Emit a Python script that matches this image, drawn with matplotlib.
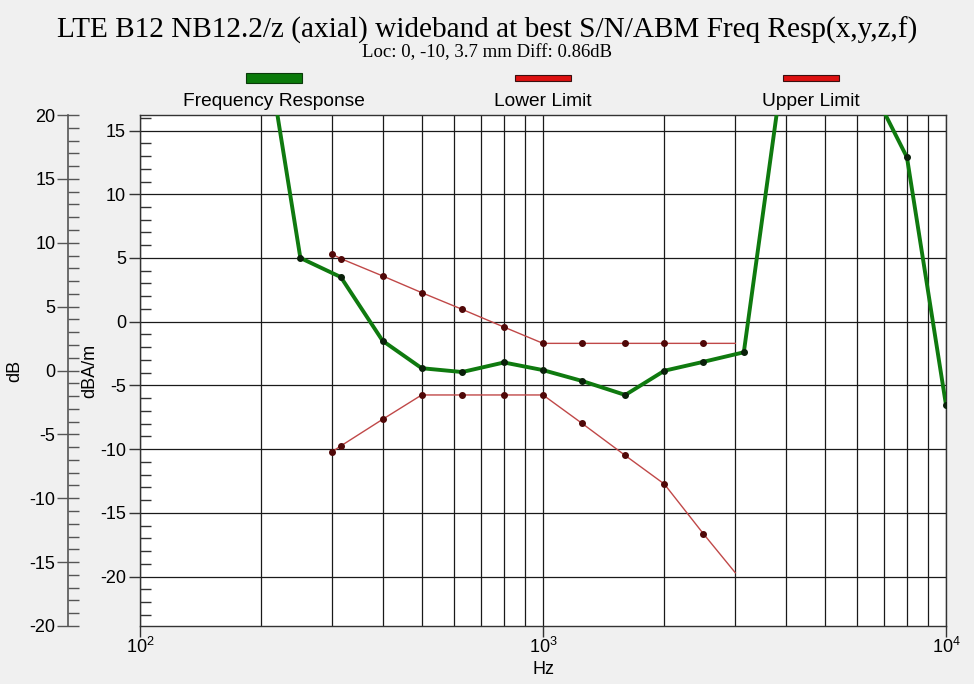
import numpy as np
import matplotlib
matplotlib.use('Agg')
from matplotlib import pyplot as plt
from matplotlib.patches import Rectangle
from matplotlib.ticker import MultipleLocator, LogLocator, NullFormatter

# 폰트 설정
plt.rcParams['font.family'] = ['Liberation Sans', 'DejaVu Sans']
plt.rcParams['mathtext.fontset'] = 'custom'
plt.rcParams['mathtext.rm'] = 'Liberation Sans'
plt.rcParams['axes.unicode_minus'] = False

# 주파수 응답 데이터 (Hz, dBA/m)
resp_freq = [200, 250, 315, 400, 500, 630, 800, 1000, 1250, 1600, 2000, 2500, 3150, 4000, 5000, 6300, 8000, 10000]
resp_val = [24.1, 5.0, 3.5, -1.5, -3.65, -3.95, -3.2, -3.8, -4.65, -5.75, -3.85, -3.15, -2.4, 21.4, 25.0, 19.4, 12.9, -6.54]

# 한계선 데이터
limit_freq = [300, 315, 400, 500, 630, 800, 1000, 1250, 1600, 2000, 2500, 3000]
lower_val = [5.29, 4.95, 3.59, 2.28, 0.97, -0.42, -1.7, -1.7, -1.7, -1.7, -1.7, -1.7]
upper_val = [-10.2, -9.75, -7.66, -5.75, -5.75, -5.75, -5.75, -7.98, -10.5, -12.74, -16.64, -19.7]

legend_labels = ['Frequency Response', 'Lower Limit', 'Upper Limit']

fig = plt.figure(figsize=(9.74, 6.84), dpi=100)
fig.patch.set_facecolor('#f0f0f0')
W, H = 974, 684
ax = fig.add_axes([140 / W, 1 - 626 / H, 806 / W, 511 / H])
ax.set_facecolor('white')

ax.set_xscale('log')
ax.set_xlim(100, 10000)
ax.set_ylim(-23.88, 16.22)

# 그리드
ax.xaxis.set_minor_locator(LogLocator(base=10, subs=np.arange(2, 10)))
ax.xaxis.set_minor_formatter(NullFormatter())
ax.yaxis.set_major_locator(MultipleLocator(5))
ax.yaxis.set_minor_locator(MultipleLocator(1))
ax.grid(True, which='major', axis='both', color='#1a1a1a', linewidth=0.9)
ax.grid(True, which='minor', axis='x', color='#1a1a1a', linewidth=0.9)
ax.set_axisbelow(True)

# 한계선
ax.plot(limit_freq, lower_val, color='#c04848', linewidth=1.0, zorder=3,
        marker='o', markersize=4, markerfacecolor='#500808', markeredgecolor='#500808',
        markevery=list(range(len(limit_freq) - 1)))
ax.plot(limit_freq, upper_val, color='#c04848', linewidth=1.0, zorder=3,
        marker='o', markersize=4, markerfacecolor='#500808', markeredgecolor='#500808',
        markevery=list(range(len(limit_freq) - 1)))

# 주파수 응답
ax.plot(resp_freq, resp_val, color='#0f7a0f', linewidth=2.8, zorder=4,
        marker='o', markersize=4, markerfacecolor='#0a200a', markeredgecolor='#0a200a')

# 축 스타일
for s in ['top', 'right', 'bottom', 'left']:
    ax.spines[s].set_color('#333333')
    ax.spines[s].set_linewidth(1.0)
ax.tick_params(axis='y', which='major', direction='out', length=8, width=1, labelsize=13, pad=2, colors='#333333', labelcolor='black')
ax.tick_params(axis='y', which='minor', direction='in', length=8, width=1, colors='#333333')
ax.tick_params(axis='x', which='major', direction='out', length=8, width=1, labelsize=13, pad=0, colors='#333333', labelcolor='black')
ax.tick_params(axis='x', which='minor', length=0)
ax.set_yticks([15, 10, 5, 0, -5, -10, -15, -20])
ax.set_xlabel('Hz', fontsize=13, labelpad=3)
ax.set_ylabel('dBA/m', fontsize=13)
ax.yaxis.set_label_coords(-42 / 806, 0.5)

# 바깥쪽 dB 축
ax2 = ax.twinx()
ax2.set_ylim(-20, 20)
ax2.yaxis.set_ticks_position('left')
ax2.yaxis.set_label_position('left')
ax2.spines['left'].set_position(('axes', -72 / 806))
for s in ['top', 'right', 'bottom']:
    ax2.spines[s].set_visible(False)
ax2.spines['left'].set_color('#555555')
ax2.spines['left'].set_linewidth(1.2)
ax2.yaxis.set_major_locator(MultipleLocator(5))
ax2.yaxis.set_minor_locator(MultipleLocator(1))
ax2.tick_params(axis='y', which='major', direction='inout', length=16, width=1, labelsize=13, pad=1, colors='#555555', labelcolor='black')
ax2.tick_params(axis='y', which='minor', direction='in', length=8, width=1, colors='#555555')
ax2.set_ylabel('dB', fontsize=13)
ax2.yaxis.set_label_coords(-117 / 806, 0.5)

# 제목
fig.text(0.5, 1 - 30 / H, 'LTE B12 NB12.2/z (axial) wideband at best S/N/ABM Freq Resp(x,y,z,f)',
         ha='center', va='center', fontsize=21.1, family='Liberation Serif')
fig.text(0.5, 1 - 53 / H, 'Loc: 0, -10, 3.7 mm Diff: 0.86dB',
         ha='center', va='center', fontsize=13.5, family='Liberation Serif')

# 범례
legend_x = [274, 543, 811]
bar_colors = ['#0a7a0a', '#dd1111', '#dd1111']
bar_edges = ['#0a3a0a', '#3a1010', '#3a1010']
bar_heights = [9, 6, 6]
for lx, lab, c, ec, bh in zip(legend_x, legend_labels, bar_colors, bar_edges, bar_heights):
    y0 = 78 + bh / 2
    fig.add_artist(Rectangle(((lx - 28) / W, 1 - y0 / H), 56 / W, bh / H,
                             facecolor=c, edgecolor=ec, linewidth=0.8, transform=fig.transFigure))
    fig.text(lx / W, 1 - 101 / H, lab, ha='center', va='center', fontsize=13.8)

fig.savefig('out.png', dpi=100, facecolor=fig.get_facecolor())
